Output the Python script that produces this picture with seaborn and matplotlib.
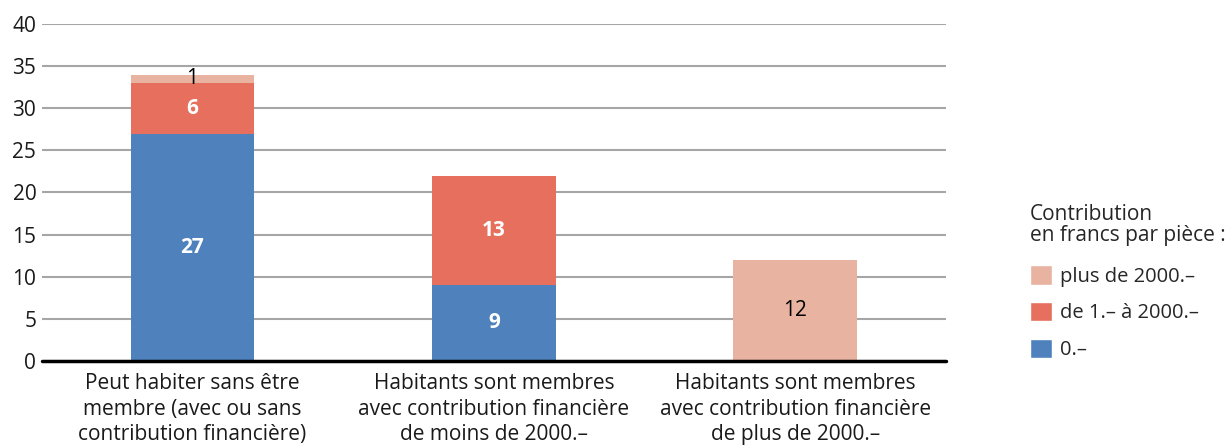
import numpy as np
import pandas as pd
import seaborn as sns
import matplotlib.pyplot as plt
from matplotlib.patches import Patch

categories = ["Peut habiter sans être\nmembre (avec ou sans\ncontribution financière)",
              "Habitants sont membres\navec contribution financière\nde moins de 2000.–",
              "Habitants sont membres\navec contribution financière\nde plus de 2000.–"]
zero = [27, 9, 0]
low = [6, 13, 0]
high = [1, 0, 12]
series_names = ["0.–", "de 1.– à 2000.–", "plus de 2000.–"]
colors = ["#4F81BD", "#E6705D", "#E8B3A1"]

sns.set_theme(style="white")
plt.rcParams['font.family'] = ['Open Sans', 'DejaVu Sans']

df = pd.DataFrame({"cat": categories, "zero": zero, "low": low, "high": high})
df["c1"] = df["zero"]
df["c2"] = df["zero"] + df["low"]
df["c3"] = df["c2"] + df["high"]

fig = plt.figure(figsize=(12.3, 4.45), dpi=100)
ax = fig.add_axes([0.034, 0.189, 0.735, 0.757])

# stacked bars: draw cumulative totals from top to bottom
for col, c in zip(["c3", "c2", "c1"], colors[::-1]):
    sns.barplot(data=df, x="cat", y=col, color=c, width=0.41, saturation=1,
                linewidth=0, ax=ax, zorder=2)

# segment labels
for i in range(len(categories)):
    segs = [(0, zero[i], "white", "bold"),
            (zero[i], low[i], "white", "bold"),
            (zero[i] + low[i], high[i], "black", "normal")]
    for base, h, col, w in segs:
        if h > 0:
            ax.text(i, base + h / 2, str(h), ha="center", va="center",
                    color=col, fontsize=15, fontweight=w, zorder=3)

ax.set_ylim(0, 40)
ax.set_xlim(-0.5, 2.5)
ax.set_yticks(range(0, 41, 5))
ax.yaxis.grid(True, color="#A6A6A6", linewidth=1.5, zorder=0)
ax.set_axisbelow(True)
ax.axhline(0, color="black", linewidth=2.5, zorder=4, clip_on=False)
sns.despine(ax=ax, left=True, bottom=True)
ax.set_xlabel("")
ax.set_ylabel("")
ax.tick_params(axis="y", length=0, labelsize=15, pad=4, colors="#1a1a1a")
ax.tick_params(axis="x", length=0, labelsize=15, pad=9, colors="#1a1a1a")
for t in ax.get_xticklabels():
    t.set_linespacing(1.28)

handles = [Patch(facecolor=colors[2]), Patch(facecolor=colors[1]), Patch(facecolor=colors[0])]
labels = [series_names[2], series_names[1], series_names[0]]
leg = fig.legend(handles, labels, title="Contribution\nen francs par pièce :",
                 loc="upper left", bbox_to_anchor=(0.831, 0.56), frameon=False,
                 fontsize=14.5, title_fontsize=15, handlelength=1.1, handleheight=1.1,
                 handletextpad=0.4, labelspacing=0.75, borderaxespad=0)
leg._legend_box.align = "left"
leg._legend_box.sep = 14
leg.get_title().set_linespacing(1.0)

fig.savefig("out.png", dpi=100)
